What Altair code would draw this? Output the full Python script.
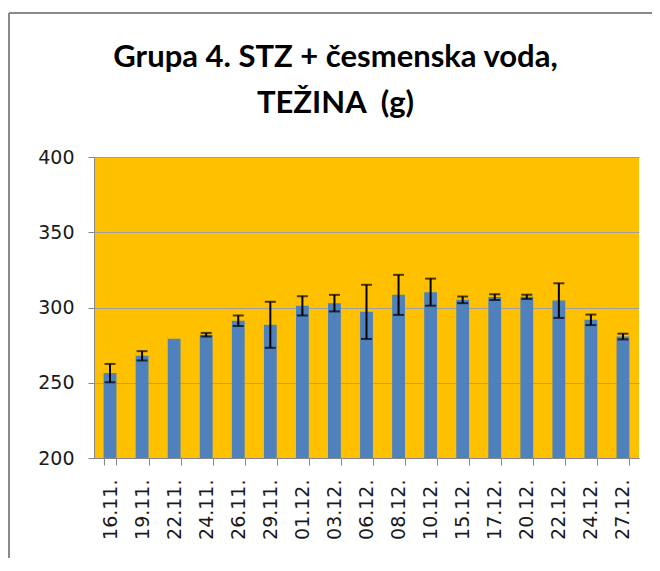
import altair as alt
import pandas as pd

dates = ["16.11.", "19.11.", "22.11.", "24.11.", "26.11.", "29.11.", "01.12.",
         "03.12.", "06.12.", "08.12.", "10.12.", "15.12.", "17.12.", "20.12.",
         "22.12.", "24.12.", "27.12."]
means = [256.4, 267.9, 279.2, 281.9, 291.2, 288.5, 301.1, 302.9, 297.1,
         308.4, 310.2, 305.1, 306.9, 307.1, 304.6, 291.8, 280.7]
errors = [6.1, 3.1, 0.0, 1.2, 3.5, 15.3, 6.4, 5.5, 18.0, 13.3, 9.0, 2.2,
          1.9, 1.4, 11.5, 3.5, 1.9]
y_min, y_max = 200, 400

df = pd.DataFrame({"date": dates, "mean": means, "err": errors})

W, H = 545, 301
PAD_L, PAD_T, PAD_R, PAD_B = 86, 149, 13, 100

xenc = alt.X(
    "date:N", sort=dates, title=None,
    scale=alt.Scale(paddingInner=0.6, paddingOuter=0.3),
    axis=alt.Axis(labelAngle=-90, tickBand="extent", labelFont="DejaVu Sans",
                  labelFontSize=19, labelColor="#1a1a1a", labelPadding=14,
                  tickSize=7, tickColor="#888888", domainColor="#888888",
                  labelBaseline="middle", labelAlign="right"),
)
yscale = alt.Scale(domain=[y_min, y_max], zero=False, nice=False)

base = alt.Chart(df)

bars = base.mark_bar(color="#4F81BD").encode(
    x=xenc,
    y=alt.Y("mean:Q", scale=yscale, title=None,
            axis=alt.Axis(values=[200, 250, 300, 350, 400], labelFont="DejaVu Sans",
                          labelFontSize=19, labelColor="#1a1a1a", labelPadding=14,
                          tickSize=6, tickColor="#888888", domainColor="#888888",
                          gridColor="#A0A0A0", gridWidth=1.2)),
    y2=alt.datum(y_min),
)

err = base.transform_filter("datum.err > 0").transform_calculate(
    lo="datum.mean - datum.err", hi="datum.mean + datum.err"
)
rule = err.mark_rule(color="black", strokeWidth=2).encode(
    x=alt.X("date:N", sort=dates), y="lo:Q", y2="hi:Q"
)
cap_lo = err.mark_tick(color="black", thickness=2, size=11).encode(
    x=alt.X("date:N", sort=dates), y="lo:Q"
)
cap_hi = err.mark_tick(color="black", thickness=2, size=11).encode(
    x=alt.X("date:N", sort=dates), y="hi:Q"
)

frame_left = alt.Chart(df).mark_rule(color="#8A8A8A", strokeWidth=2).encode(
    x=alt.value(-PAD_L + 1), y=alt.value(-PAD_T + 5), y2=alt.value(H + PAD_B)
)
frame_top = alt.Chart(df).mark_rule(color="#8A8A8A", strokeWidth=2).encode(
    x=alt.value(-PAD_L + 1), x2=alt.value(W + PAD_R), y=alt.value(-PAD_T + 5)
)

chart = alt.layer(bars, rule, cap_lo, cap_hi, frame_left, frame_top).properties(
    width=W, height=H,
    title=alt.TitleParams(
        text=["Grupa 4. STZ + česmenska voda,", "TEŽINA\u00a0\u00a0(g)"],
        font="Lato", fontSize=31, fontWeight="bold", color="black",
        anchor="middle", baseline="alphabetic", lineHeight=46,
        offset=-132, dx=-31, frame="group",
    ),
    autosize=alt.AutoSizeParams(type="none"),
    padding={"left": PAD_L, "top": PAD_T, "right": PAD_R, "bottom": PAD_B},
).configure(background="white").configure_view(fill="#FFC000", strokeWidth=0)

chart.save("out.html", embed_options={"renderer": "svg", "actions": False})
